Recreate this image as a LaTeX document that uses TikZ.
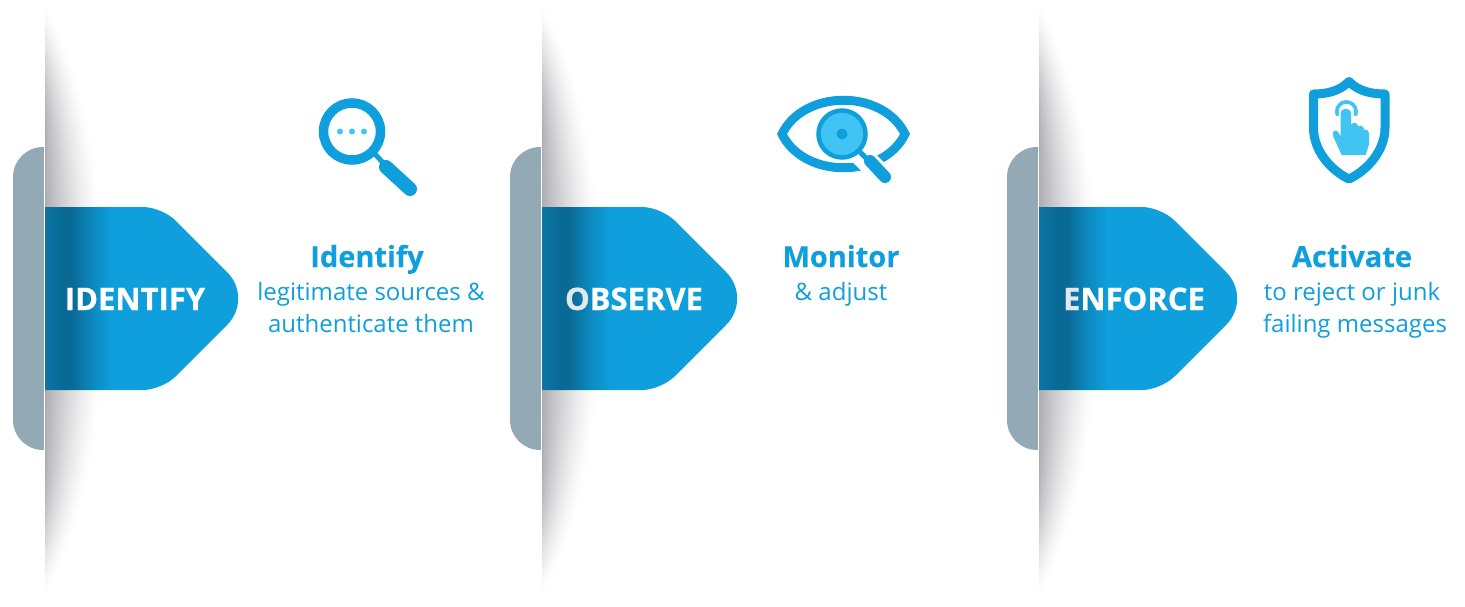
\documentclass[tikz,border=0pt]{standalone}
\usepackage{fontspec}
\setmainfont{Open Sans}
\usetikzlibrary{calc}
\definecolor{brand}{HTML}{0E9FDC}
\definecolor{brandlight}{HTML}{40C4F4}
\definecolor{branddark}{HTML}{0A6A96}
\definecolor{tabgray}{HTML}{94A9B6}
\definecolor{shadegray}{HTML}{ABABB0}
\definecolor{fadedletter}{HTML}{E4E8EC}
\pgfdeclarehorizontalshading{foldshade}{100bp}{
  color(0bp)=(branddark!80!brand); color(25bp)=(branddark!80!brand); color(29bp)=(branddark); color(31.5bp)=(branddark);
  color(36.5bp)=(brand!60!branddark); color(41bp)=(brand); color(100bp)=(brand)}
\tikzset{
  tabband/.style={fill=tabgray},
  steplabel/.style={text=white,font=\fontsize{31}{31}\selectfont\bfseries\addfontfeature{FakeBold=0.7},anchor=base,inner sep=0pt},
  headtext/.style={text=brand,font=\fontsize{29}{29}\selectfont\bfseries\addfontfeature{FakeBold=0.25},anchor=base,inner sep=0pt},
  subtext/.style={text=brand,font=\fontsize{24}{24}\selectfont,anchor=base,inner sep=0pt},
  iconline/.style={draw=brand,line cap=round,line join=round},
}
\newcommand{\panelbase}[2]{% left edge, tip
  \fill[tabband] (#1,147) [rounded corners=30pt] -- (#1-32,147) -- (#1-32,450) [sharp corners] -- (#1,450) -- cycle;
  \fill[white] (#1-0.8,140) rectangle (#1,460);
  \foreach \s in {1.0,0.975,...,0.01}{
    \pgfmathsetmacro{\f}{100*pow(1-\s,1.3)}
    \pgfmathsetmacro{\h}{170+125*pow(\s,0.7)}
    \pgfmathsetmacro{\w}{60*\s}
    \fill[shadegray!\f!white]
      (#1,{300-\h}) .. controls ({#1+\w*0.8},{300-\h*0.72}) and ({#1+\w},{300-\h*0.3}) .. ({#1+\w},300)
      .. controls ({#1+\w},{300+\h*0.3}) and ({#1+\w*0.8},{300+\h*0.72}) .. (#1,{300+\h}) -- cycle;
  }
  \fill[shadegray] (#1,130) rectangle (#1+0.5,470);
  \shade[shading=foldshade] (#1,207) [rounded corners=19pt] -- ({#2-76},207) [rounded corners=37pt] -- ({#2+15.5},298.5) [rounded corners=19pt] -- ({#2-76},390) [sharp corners] -- (#1,390) -- cycle;
}
\begin{document}
\begin{tikzpicture}[x=1pt,y=-1pt]
\useasboundingbox (0,0) rectangle (1465,606);
\fill[white] (0,0) rectangle (1465,606);
\panelbase{45}{238}
\panelbase{542}{737}
\panelbase{1039}{1237}

\node[steplabel] (labA) at (135,310) {IDENTIFY};
\node[steplabel] (labB) at (634,310) {{\color{fadedletter}O}BSERVE};
\node[steplabel] (labC) at (1134,310) {{\color{fadedletter}E}NFORCE};

\node[headtext] (headA) at (367,267) {Identify};
\node[subtext] (subA1) at (371,300) {legitimate sources \&};
\node[subtext] (subA2) at (371,332) {authenticate them};
\node[headtext] (headB) at (841,267) {Monitor};
\node[subtext] (subB1) at (841,300) {\& adjust};
\node[headtext] (headC) at (1352,267) {Activate};
\node[subtext] (subC1) at (1352,300) {to reject or junk};
\node[subtext] (subC2) at (1355,332) {failing messages};

% magnifier
\draw[brand,line width=9.5pt] (352,131.5) circle[radius=28.5];
\foreach \x in {340,352,364} \fill[brandlight] (\x,131.5) circle[radius=3];
\draw[iconline,line width=5pt,line cap=butt] (375,154) -- (385,165);
\draw[iconline,line width=14pt] (386,167) -- (410,189);

% eye
\fill[brand,even odd rule]
  (777,134) .. controls (800,83) and (887,83) .. (910,134) .. controls (887,185) and (800,185) .. (777,134) -- cycle
  (787,134) .. controls (808,95) and (879,95) .. (900,134) .. controls (879,173) and (808,173) .. (787,134) -- cycle;
\draw[white,line width=22pt,line cap=butt] (850,144) -- (892,186);
\fill[brandlight] (842,134) circle[radius=24];
\draw[brand,line width=4.5pt] (842,134) circle[radius=23.5];
\fill[brand] (842,134) circle[radius=5.5];
\draw[iconline,line width=5pt,line cap=butt] (860,152) -- (870,162);
\draw[iconline,line width=12pt] (870,161) -- (885,177);

% shield
\draw[iconline,line width=9pt,fill=white]
  (1349,81.5) .. controls (1340,91) and (1327,94) .. (1313.5,94) -- (1313.5,128)
  .. controls (1313.5,150) and (1330,170) .. (1349,179) .. controls (1368,170) and (1385,150) .. (1385,128)
  -- (1385,94) .. controls (1371,94) and (1358,91) .. (1349,81.5) -- cycle;
\begin{scope}[shift={(1295,65)},x=0.3333pt,y=-0.3333pt]
  \draw[brandlight,line width=3.6pt] (128,152) arc[start angle=155,end angle=385,radius=29];
  \fill[brandlight] (137,146) .. controls (137,126) and (168,126) .. (168,146) -- (168,178)
    .. controls (178,170) and (188,174) .. (190,185) .. controls (198,178) and (206,184) .. (208,195)
    .. controls (216,190) and (222,198) .. (222,210) -- (222,238) -- (212,270) -- (140,270) -- (115,215)
    .. controls (108,195) and (125,190) .. (132,205) -- (137,215) -- cycle;
\end{scope}
\end{tikzpicture}
\end{document}
